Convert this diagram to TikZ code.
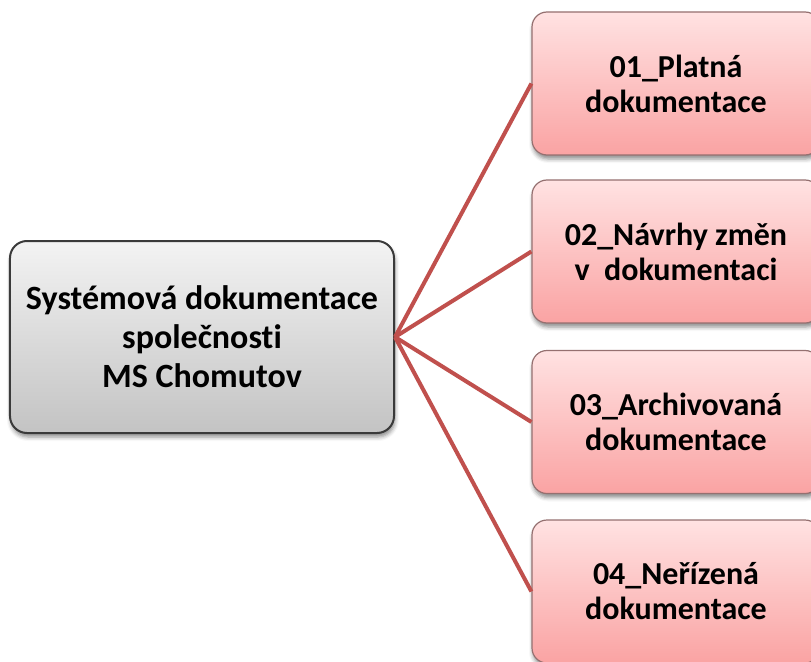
\documentclass[tikz,border=0pt]{standalone}
\usepackage{fontspec}
\setmainfont{Carlito}[Ligatures=NoCommon]
\usetikzlibrary{shadows.blur}
\definecolor{connred}{HTML}{C0504D}
\definecolor{pinktop}{HTML}{FFE2E2}
\definecolor{pinkbot}{HTML}{FAA3A3}
\definecolor{pinkedge}{HTML}{957070}
\definecolor{graytop}{HTML}{F3F3F3}
\definecolor{graybot}{HTML}{C3C3C3}
\definecolor{grayedge}{HTML}{3A3A3A}
\tikzset{
  mainbox/.style={rectangle, rounded corners=17bp, draw=grayedge, line width=2bp,
    top color=graytop, bottom color=graybot,
    minimum width=384bp, minimum height=192bp, inner sep=0pt,
    align=center, font=\bfseries\fontsize{34bp}{39bp}\selectfont,
    blur shadow={shadow xshift=1bp, shadow yshift=-4bp, shadow blur radius=4bp, shadow opacity=45}},
  subbox/.style={rectangle, rounded corners=15bp, draw=pinkedge, line width=1.2bp,
    top color=pinktop, bottom color=pinkbot,
    minimum width=288bp, minimum height=143bp, inner sep=0pt,
    align=center, font=\bfseries\fontsize{32bp}{35bp}\selectfont,
    blur shadow={shadow xshift=1bp, shadow yshift=-4bp, shadow blur radius=4bp, shadow opacity=45}},
  conn/.style={draw=connred, line width=4bp}
}
\begin{document}
\begin{tikzpicture}[x=1bp, y=-1bp]
\useasboundingbox (0,0) rectangle (811,662);
\clip (0,0) rectangle (811,662);
\node[mainbox] (main) at (202,337) {Systémová dokumentace\\společnosti\\MS Chomutov};
\node[subbox] (b1) at (676,83.5) {01\_Platná\\dokumentace};
\node[subbox] (b2) at (676,251.5) {02\_Návrhy změn\\v\ \ dokumentaci};
\node[subbox] (b3) at (676,422) {03\_Archivovaná\\dokumentace};
\node[subbox] (b4) at (676,591.5) {04\_Neřízená\\dokumentace};
\foreach \b in {b1,b2,b3,b4} \draw[conn] (main.east) -- (\b.west);
\end{tikzpicture}
\end{document}
